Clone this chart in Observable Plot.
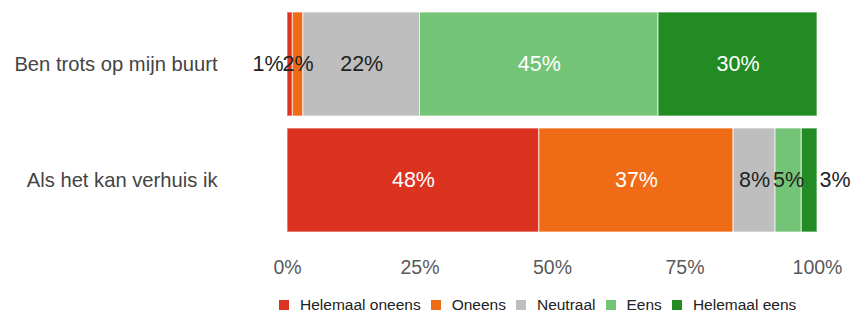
<!DOCTYPE html>
<html><head><meta charset="utf-8">
<script src="https://cdn.jsdelivr.net/npm/d3@7"></script>
<script src="https://cdn.jsdelivr.net/npm/@observablehq/plot@0.6"></script>
<style>
body{margin:0;background:#fff;font-family:"Liberation Sans",Arial,sans-serif;overflow:hidden;}
#chart{height:282px;}
#legend{margin-left:279px;margin-top:15px;height:16px;}
#legend [class*="-swatches"]{min-height:0 !important;height:16px;line-height:1 !important;margin:0 !important;}
#legend [class*="-swatch"]{margin-right:10px !important;line-height:1 !important;}
#legend svg{margin-right:11px !important;}
</style></head>
<body><div id="chart"></div><div id="legend"></div>
<script>
const questions = ["Ben trots op mijn buurt", "Als het kan verhuis ik"];
const answers = ["Helemaal oneens", "Oneens", "Neutraal", "Eens", "Helemaal eens"];
const colors = ["#dc3220", "#f06b16", "#bebebe", "#74c477", "#238b23"];
const trotsValues = [1, 2, 22, 45, 30];
const verhuisValues = [48, 37, 8, 5, 3];
const xTicks = [0, 0.25, 0.5, 0.75, 1];

const seriesByQ = [trotsValues, verhuisValues];
const rows = [];
questions.forEach((q, qi) => {
  const vals = seriesByQ[qi];
  const total = d3.sum(vals);
  let acc = 0;
  vals.forEach((v, ai) => {
    const x1 = acc / total; acc += v; const x2 = acc / total;
    const edgeFirst = ai === 0 && v < 4;
    const edgeLast = ai === vals.length - 1 && v < 4;
    rows.push({
      q, a: answers[ai], v, x1, x2,
      xl: edgeFirst ? x1 : edgeLast ? x2 : (x1 + x2) / 2,
      anchor: edgeFirst ? "end" : edgeLast ? "start" : "middle",
      fill: (v >= 10 && answers[ai] !== "Neutraal") ? "white" : "#222"
    });
  });
});

const textMark = (anchor) => Plot.text(rows.filter(d => d.anchor === anchor), {
  x: "xl", y: "q", text: d => d.v + "%", fill: "fill", textAnchor: anchor,
  dx: anchor === "end" ? -4 : anchor === "start" ? 2 : 0,
  fontSize: 21.5, fontFamily: "Liberation Sans, Arial, sans-serif"
});

const chart = Plot.plot({
  width: 852, height: 282,
  marginLeft: 287, marginRight: 35, marginTop: 12, marginBottom: 50,
  style: {fontFamily: "Liberation Sans, Arial, sans-serif", background: "white"},
  x: {domain: [0, 1], ticks: xTicks, tickFormat: d => Math.round(d * 100) + "%", label: null},
  y: {domain: questions, paddingInner: 12 / 116, paddingOuter: 0, label: null},
  color: {domain: answers, range: colors},
  marks: [
    Plot.barX(rows, {x1: "x1", x2: "x2", y: "q", fill: "a", stroke: "white", strokeWidth: 1, strokeOpacity: 0.7, inset: 0}),
    textMark("middle"), textMark("end"), textMark("start"),
    Plot.axisX({ticks: xTicks, tickSize: 0, tickPadding: 28, fontSize: 19.5, color: "#5a5a5a", tickFormat: d => Math.round(d * 100) + "%", label: null}),
    Plot.axisY({tickSize: 0, tickPadding: 70, fontSize: 20.2, color: "#444", label: null})
  ]
});
document.getElementById("chart").appendChild(chart);

const legend = Plot.legend({
  color: {domain: answers, range: colors, type: "categorical"},
  legend: "swatches", swatchSize: 10,
  style: {fontSize: "15.5px", fontFamily: "Liberation Sans, Arial, sans-serif", color: "#222"}
});
document.getElementById("legend").appendChild(legend);
</script></body></html>
